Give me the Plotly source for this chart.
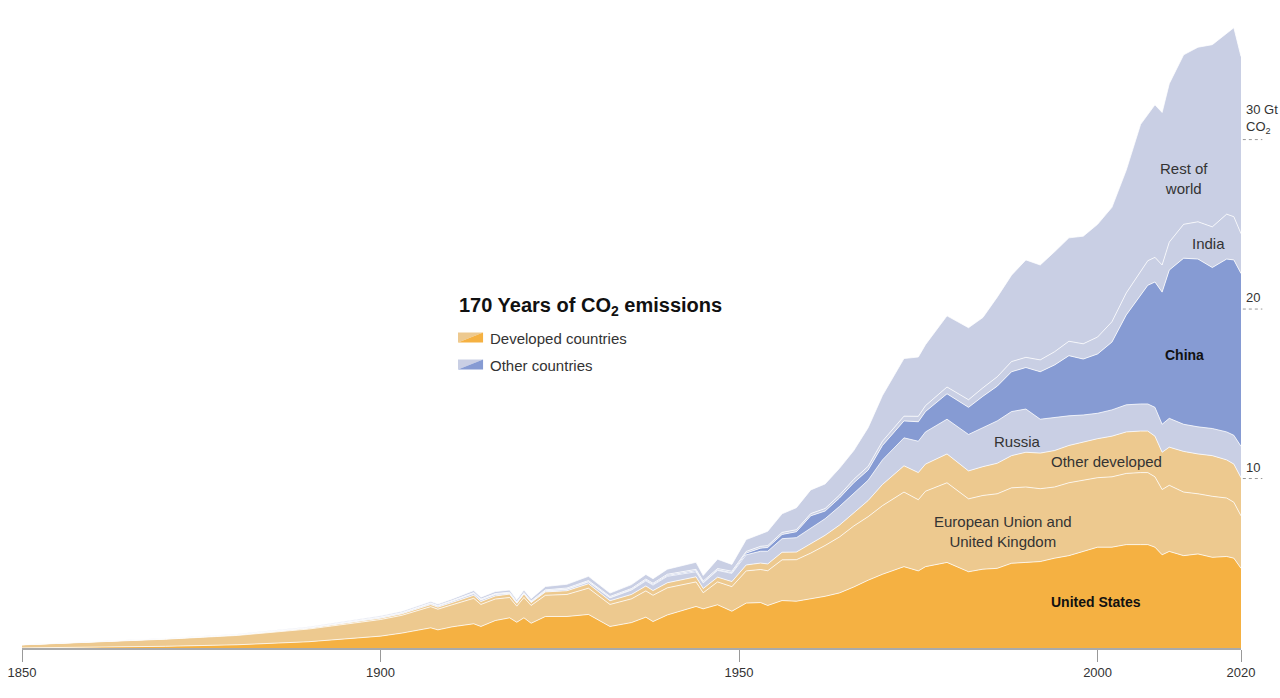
import plotly.graph_objects as go

# ---------------- data (Gt CO2 per year) ----------------
years = [1850, 1860, 1870, 1880, 1890, 1900, 1903, 1907, 1908, 1910,
         1913, 1914, 1916, 1918, 1919, 1920, 1921, 1923, 1926, 1929,
         1932, 1935, 1937, 1938, 1940, 1944, 1945, 1947, 1949, 1951,
         1953, 1954, 1956, 1958, 1960, 1962, 1964, 1966, 1968, 1970,
         1973, 1975, 1976, 1979, 1982, 1984, 1986, 1988, 1990, 1992,
         1994, 1996, 1998, 2000, 2002, 2004, 2006, 2007, 2008, 2009,
         2010, 2012, 2014, 2016, 2018, 2019, 2020]

united_states = [0.005, 0.05, 0.10, 0.19, 0.37, 0.70, 0.88, 1.19, 1.07, 1.25,
                 1.43, 1.27, 1.62, 1.78, 1.52, 1.78, 1.46, 1.86, 1.86, 1.98,
                 1.27, 1.50, 1.82, 1.56, 1.95, 2.45, 2.31, 2.55, 2.17, 2.65,
                 2.68, 2.51, 2.80, 2.76, 2.90, 3.05, 3.25, 3.60, 4.00, 4.35,
                 4.80, 4.55, 4.80, 5.05, 4.50, 4.65, 4.70, 5.00, 5.05, 5.10,
                 5.30, 5.45, 5.70, 5.95, 5.95, 6.10, 6.10, 6.10, 5.95, 5.50,
                 5.70, 5.45, 5.55, 5.35, 5.40, 5.30, 4.70]

eu_uk = [0.18, 0.30, 0.42, 0.55, 0.75, 0.98, 1.05, 1.25, 1.22, 1.30,
         1.50, 1.30, 1.27, 1.20, 0.95, 1.20, 1.05, 1.25, 1.30, 1.55,
         1.30, 1.40, 1.55, 1.55, 1.60, 1.45, 0.95, 1.35, 1.45, 1.90,
         1.95, 2.05, 2.40, 2.45, 2.70, 3.00, 3.30, 3.60, 3.75, 4.05,
         4.40, 4.20, 4.45, 4.70, 4.30, 4.35, 4.40, 4.45, 4.45, 4.30,
         4.20, 4.30, 4.20, 4.10, 4.15, 4.20, 4.25, 4.25, 4.15, 3.85,
         3.90, 3.75, 3.55, 3.60, 3.45, 3.30, 3.10]

other_developed = [0.01, 0.015, 0.02, 0.03, 0.05, 0.08, 0.09, 0.12, 0.12, 0.14,
                   0.18, 0.17, 0.18, 0.20, 0.17, 0.20, 0.17, 0.20, 0.22, 0.26,
                   0.22, 0.26, 0.29, 0.28, 0.30, 0.30, 0.25, 0.28, 0.30, 0.35,
                   0.38, 0.40, 0.45, 0.45, 0.55, 0.60, 0.70, 0.80, 0.95, 1.25,
                   1.55, 1.60, 1.60, 1.70, 1.65, 1.70, 1.80, 1.90, 2.05, 2.10,
                   2.15, 2.20, 2.25, 2.30, 2.40, 2.45, 2.45, 2.45, 2.40, 2.20,
                   2.25, 2.40, 2.35, 2.40, 2.25, 2.25, 2.25]

russia = [0.002, 0.005, 0.01, 0.02, 0.03, 0.06, 0.06, 0.07, 0.07, 0.08,
          0.11, 0.10, 0.09, 0.05, 0.03, 0.03, 0.03, 0.05, 0.08, 0.11,
          0.17, 0.26, 0.30, 0.32, 0.38, 0.30, 0.33, 0.40, 0.48, 0.60,
          0.70, 0.75, 0.80, 0.85, 0.90, 0.98, 1.10, 1.15, 1.20, 1.45,
          1.65, 1.85, 1.90, 2.05, 2.15, 2.30, 2.50, 2.60, 2.55, 2.00,
          1.95, 1.75, 1.60, 1.50, 1.55, 1.60, 1.60, 1.60, 1.70, 1.65,
          1.70, 1.60, 1.60, 1.60, 1.65, 1.70, 1.85]

china = [0.0, 0.0, 0.0, 0.0, 0.0, 0.001, 0.002, 0.005, 0.005, 0.008,
         0.01, 0.01, 0.01, 0.01, 0.01, 0.01, 0.01, 0.02, 0.02, 0.02,
         0.02, 0.03, 0.04, 0.04, 0.05, 0.06, 0.03, 0.03, 0.04, 0.10,
         0.18, 0.22, 0.25, 0.35, 0.75, 0.45, 0.50, 0.60, 0.60, 0.85,
         1.00, 1.15, 1.20, 1.50, 1.60, 1.85, 2.05, 2.35, 2.45, 2.80,
         3.10, 3.55, 3.30, 3.50, 4.00, 5.30, 6.40, 7.00, 7.40, 7.80,
         8.75, 9.80, 9.90, 9.50, 10.20, 10.35, 10.20]

india = [0.0, 0.002, 0.005, 0.008, 0.01, 0.02, 0.02, 0.03, 0.03, 0.03,
         0.04, 0.04, 0.04, 0.05, 0.04, 0.05, 0.05, 0.05, 0.06, 0.06,
         0.06, 0.06, 0.07, 0.07, 0.07, 0.08, 0.08, 0.08, 0.09, 0.10,
         0.11, 0.11, 0.12, 0.12, 0.13, 0.15, 0.17, 0.20, 0.22, 0.25,
         0.28, 0.32, 0.35, 0.40, 0.45, 0.50, 0.55, 0.60, 0.60, 0.70,
         0.78, 0.85, 0.90, 1.00, 1.20, 1.30, 1.40, 1.45, 1.45, 1.60,
         1.65, 2.00, 2.20, 2.40, 2.65, 2.55, 2.35]

rest_of_world = [0.01, 0.015, 0.02, 0.03, 0.04, 0.06, 0.07, 0.08, 0.08, 0.09,
                 0.12, 0.11, 0.12, 0.13, 0.12, 0.15, 0.14, 0.20, 0.22, 0.25,
                 0.20, 0.23, 0.27, 0.27, 0.30, 0.42, 0.33, 0.55, 0.40, 0.70,
                 0.75, 0.85, 1.10, 1.30, 1.40, 1.45, 1.58, 1.70, 2.28, 2.70,
                 3.40, 3.50, 3.60, 4.20, 4.25, 4.15, 4.70, 5.10, 5.75, 5.60,
                 5.90, 6.10, 6.35, 6.65, 6.75, 7.25, 8.70, 8.65, 9.00, 9.00,
                 9.35, 10.00, 10.30, 10.75, 10.70, 11.15, 10.45]

x_ticks = [1850, 1900, 1950, 2000, 2020]
y_ticks = [10, 20, 30]
y_tick_labels = ["10", "20", "30 Gt<br>CO<sub>2</sub>"]

# ---------------- style ----------------
DARK_ORANGE = "#F5B142"
LIGHT_ORANGE = "#EDC98F"
LIGHT_BLUE = "#C9CFE4"
BLUE = "#869BD3"
FONT = "Liberation Sans, Arial, Helvetica, sans-serif"
TEXT = "#333333"

series = [
    ("United States", united_states, DARK_ORANGE),
    ("European Union and United Kingdom", eu_uk, LIGHT_ORANGE),
    ("Other developed", other_developed, LIGHT_ORANGE),
    ("Russia", russia, LIGHT_BLUE),
    ("China", china, BLUE),
    ("India", india, LIGHT_BLUE),
    ("Rest of world", rest_of_world, LIGHT_BLUE),
]

fig = go.Figure()
for name, vals, col in series:
    fig.add_trace(go.Scatter(
        x=years, y=vals, name=name, mode="lines",
        stackgroup="one", fillcolor=col,
        line=dict(color="rgba(255,255,255,0.75)", width=1),
        hoverinfo="skip", showlegend=False,
    ))

annotations = []

# in-chart labels
def lab(text, x, y, size=15, bold=False, color=TEXT, xanchor="center"):
    t = f"<b>{text}</b>" if bold else text
    annotations.append(dict(x=x, y=y, xref="x", yref="y", text=t, showarrow=False,
                            xanchor=xanchor, yanchor="middle",
                            font=dict(family=FONT, size=size, color=color)))

lab("Rest of<br>world", 2012.1, 27.7)
lab("India", 2015.4, 23.86)
lab("China", 2012.1, 17.3, size=14, bold=True, color="#111111")
lab("Russia", 1988.9, 12.18)
lab("Other developed", 2001.3, 11.0)
lab("European Union and<br>United Kingdom", 1986.8, 6.87)
lab("United States", 1999.8, 2.74, size=14, bold=True, color="#111111")

# title + legend
annotations.append(dict(x=1910.7, y=20.15, xref="x", yref="y", xanchor="left", yanchor="middle",
                        text="<b>170 Years of CO<sub>2</sub> emissions</b>", showarrow=False,
                        font=dict(family=FONT, size=20, color="#111111")))
annotations.append(dict(x=1915.0, y=18.26, xref="x", yref="y", xanchor="left", yanchor="middle",
                        text="Developed countries", showarrow=False,
                        font=dict(family=FONT, size=15, color=TEXT)))
annotations.append(dict(x=1915.0, y=16.67, xref="x", yref="y", xanchor="left", yanchor="middle",
                        text="Other countries", showarrow=False,
                        font=dict(family=FONT, size=15, color=TEXT)))

shapes = []

def swatch(y_top, y_bot, light, dark):
    x0, x1 = 1910.8, 1914.3
    shapes.append(dict(type="path", xref="x", yref="y",
                       path=f"M {x0},{y_bot} L {x1},{y_top} L {x0},{y_top} Z",
                       fillcolor=light, line=dict(width=0)))
    shapes.append(dict(type="path", xref="x", yref="y",
                       path=f"M {x0},{y_bot} L {x1},{y_top} L {x1},{y_bot} Z",
                       fillcolor=dark, line=dict(width=0)))

swatch(18.61, 18.02, LIGHT_ORANGE, DARK_ORANGE)
swatch(17.02, 16.43, LIGHT_BLUE, BLUE)

# right-side value axis
for v, t in zip(y_ticks, y_tick_labels):
    shapes.append(dict(type="line", xref="paper", yref="y", x0=1.0015, x1=1.0175, y0=v, y1=v,
                       line=dict(color="#999999", width=1, dash="dot")))
    annotations.append(dict(x=1.0025, y=v, xref="paper", yref="y", xanchor="left", yanchor="bottom",
                            yshift=2, text=t, showarrow=False, align="left",
                            font=dict(family=FONT, size=13, color=TEXT)))

fig.update_layout(
    width=1280, height=698,
    margin=dict(l=22, r=39, t=4, b=50),
    paper_bgcolor="white", plot_bgcolor="white",
    showlegend=False,
    annotations=annotations, shapes=shapes,
    xaxis=dict(range=[1850, 2020], tickvals=x_ticks, ticktext=[str(v) for v in x_ticks],
               ticks="outside", ticklen=12, tickcolor="#999999", tickwidth=1,
               showline=True, linecolor="#aaaaaa", linewidth=1.5,
               showgrid=False, zeroline=False, fixedrange=True,
               tickfont=dict(family=FONT, size=13, color=TEXT)),
    yaxis=dict(range=[0, 38], visible=False, fixedrange=True),
)

fig.write_html("out.html", config={"displayModeBar": False})
